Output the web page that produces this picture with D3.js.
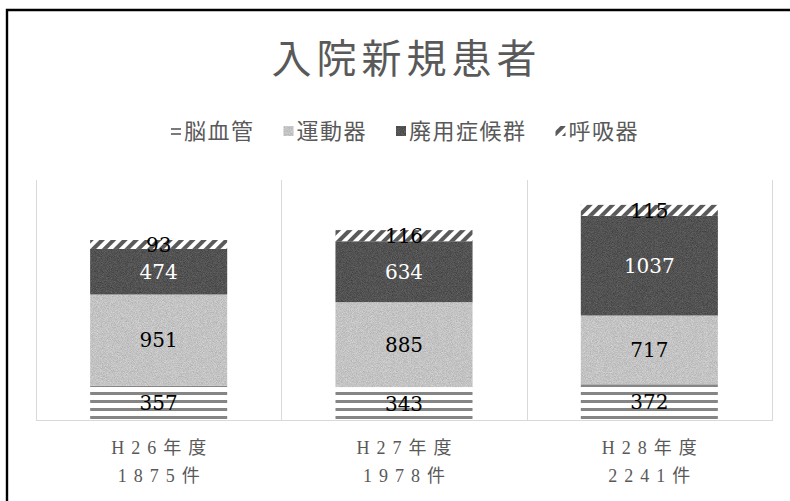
<!DOCTYPE html>
<html><head><meta charset="utf-8">
<script src="https://cdn.jsdelivr.net/npm/d3@7"></script>
<style>
  body { margin: 0; background: #fff; }
  svg { display: block; }
</style>
</head>
<body>
<svg id="chart" width="790" height="501"></svg>
<script>
// Admissions by fiscal year, stacked by rehabilitation category
const categories = ["H26年度", "H27年度", "H28年度"];
const totalLabels = ["1875件", "1978件", "2241件"];
const seriesNames = ["脳血管", "運動器", "廃用症候群", "呼吸器"];
const cerebrovascular = [357, 343, 372];
const locomotor = [951, 885, 717];
const disuse = [474, 634, 1037];
const respiratory = [93, 116, 115];

const seriesValues = [cerebrovascular, locomotor, disuse, respiratory];
const rows = categories.map((c, i) => {
  const r = { cat: c, total: totalLabels[i] };
  seriesNames.forEach((s, k) => r[s] = seriesValues[k][i]);
  return r;
});

const svg = d3.select("#chart");
const defs = svg.append("defs");
const plot = { left: 36, right: 772, top: 180, bottom: 420 };

// fills
const stripes = defs.append("pattern").attr("id", "p-stripes")
  .attr("patternUnits", "userSpaceOnUse").attr("width", 8).attr("height", 8);
stripes.append("rect").attr("width", 8).attr("height", 8).attr("fill", "#fff");
stripes.append("rect").attr("width", 8).attr("height", 3).attr("fill", "#858585");

const stripesKey = defs.append("pattern").attr("id", "p-stripes-key")
  .attr("patternUnits", "userSpaceOnUse").attr("width", 5).attr("height", 5)
  .attr("y", 127);
stripesKey.append("rect").attr("width", 5).attr("height", 5).attr("fill", "#fff");
stripesKey.append("rect").attr("width", 5).attr("height", 2).attr("fill", "#7a7a7a");

const hatch = defs.append("pattern").attr("id", "p-hatch")
  .attr("patternUnits", "userSpaceOnUse").attr("width", 8).attr("height", 8)
  .attr("patternTransform", "rotate(45)");
hatch.append("rect").attr("width", 8).attr("height", 8).attr("fill", "#fff");
hatch.append("rect").attr("width", 4).attr("height", 8).attr("fill", "#5a5a5a");

// textured fill grain
const grain = defs.append("filter").attr("id", "grain")
  .attr("x", 0).attr("y", 0).attr("width", 1).attr("height", 1)
  .attr("color-interpolation-filters", "sRGB");
grain.append("feTurbulence").attr("type", "fractalNoise")
  .attr("baseFrequency", 1.2).attr("numOctaves", 2).attr("seed", 7).attr("result", "noise");
grain.append("feColorMatrix").attr("in", "noise").attr("type", "matrix")
  .attr("values", "1.6 0 0 0 -0.3  1.6 0 0 0 -0.3  1.6 0 0 0 -0.3  0 0 0 0 0.15")
  .attr("result", "gray");
grain.append("feComposite").attr("in", "gray").attr("in2", "SourceGraphic")
  .attr("operator", "in").attr("result", "speck");
const merge = grain.append("feMerge");
merge.append("feMergeNode").attr("in", "SourceGraphic");
merge.append("feMergeNode").attr("in", "speck");

const fills = {
  "脳血管": "url(#p-stripes)",
  "運動器": "#cfcfcf",
  "廃用症候群": "#4a4a4a",
  "呼吸器": "url(#p-hatch)"
};
const keyFills = Object.assign({}, fills, { "脳血管": "url(#p-stripes-key)" });
const grainy = { "運動器": true, "廃用症候群": true };
const labelColor = { "脳血管": "#000", "運動器": "#000", "廃用症候群": "#fff", "呼吸器": "#000" };

const x = d3.scaleBand().domain(categories)
  .range([plot.left, plot.right]).paddingInner(0.4415).paddingOuter(0.22075);
const y = d3.scaleLinear().domain([0, 2500]).range([plot.bottom, plot.top]);

// outer frame
svg.append("path").attr("d", "M7,501V10H790")
  .attr("fill", "none").attr("stroke", "#000").attr("stroke-width", 2.4);

// category separators and baseline
const bounds = d3.range(categories.length + 1).map(i => plot.left + i * x.step());
svg.append("g").selectAll("line").data(bounds).join("line")
  .attr("x1", d => Math.round(d) + 0.5).attr("x2", d => Math.round(d) + 0.5)
  .attr("y1", plot.top).attr("y2", plot.bottom)
  .attr("stroke", "#d9d9d9").attr("stroke-width", 1);
svg.append("line").attr("x1", plot.left).attr("x2", plot.right + 1)
  .attr("y1", plot.bottom + 0.5).attr("y2", plot.bottom + 0.5)
  .attr("stroke", "#d9d9d9").attr("stroke-width", 1);

// stacked bars
const stacked = d3.stack().keys(seriesNames)(rows);
const layers = svg.append("g").selectAll("g").data(stacked).join("g")
  .attr("fill", d => fills[d.key]);
layers.selectAll("rect").data(d => d.map(v => Object.assign(v, { key: d.key }))).join("rect")
  .attr("x", d => x(d.data.cat))
  .attr("width", x.bandwidth())
  .attr("y", d => y(d[1]))
  .attr("height", d => y(d[0]) - y(d[1]))
  .attr("filter", d => grainy[d.key] ? "url(#grain)" : null);

// value labels
svg.append("g").selectAll("g").data(stacked).join("g")
  .attr("fill", d => labelColor[d.key])
  .selectAll("text").data(d => d).join("text")
  .attr("x", d => x(d.data.cat) + x.bandwidth() / 2)
  .attr("y", d => (y(d[0]) + y(d[1])) / 2)
  .attr("dy", "0.36em")
  .attr("text-anchor", "middle")
  .style("font-family", "'DejaVu Serif', 'Noto Sans CJK JP', serif")
  .style("font-size", "20px")
  .text(d => d.data[d.key]);

// category axis labels (two lines)
const axisSpacing = 7;
const axisG = svg.append("g")
  .style("font-family", "'Liberation Serif', 'Noto Sans CJK JP', serif")
  .style("font-size", "18px")
  .style("letter-spacing", axisSpacing + "px")
  .attr("fill", "#595959")
  .attr("text-anchor", "middle");
axisG.selectAll("text.l1").data(rows).join("text").attr("class", "l1")
  .attr("x", d => x(d.cat) + x.bandwidth() / 2 + axisSpacing / 2)
  .attr("y", 454).text(d => d.cat);
axisG.selectAll("text.l2").data(rows).join("text").attr("class", "l2")
  .attr("x", d => x(d.cat) + x.bandwidth() / 2 + axisSpacing / 2)
  .attr("y", 482).text(d => d.total);

// title
const titleSpacing = 5;
svg.append("text")
  .attr("x", 404 + titleSpacing / 2).attr("y", 73)
  .attr("text-anchor", "middle")
  .attr("fill", "#595959")
  .style("font-family", "'Noto Sans CJK JP', sans-serif")
  .style("font-size", "40px")
  .style("letter-spacing", titleSpacing + "px")
  .text("入院新規患者");

// legend
const legend = svg.append("g");
const items = legend.selectAll("g").data(seriesNames).join("g");
items.append("rect").attr("width", 10).attr("height", 10).attr("y", -5)
  .attr("fill", d => keyFills[d])
  .attr("filter", d => grainy[d] ? "url(#grain)" : null);
items.append("text").attr("x", 13).attr("dy", "0.36em")
  .attr("fill", "#595959")
  .style("font-family", "'Noto Sans CJK JP', sans-serif")
  .style("font-size", "22px")
  .style("letter-spacing", "1.5px")
  .text(d => d);
const widths = [];
items.each(function () {
  widths.push(13 + d3.select(this).select("text").node().getComputedTextLength());
});
const gap = 29;
const totalW = d3.sum(widths) + gap * (widths.length - 1);
let cursor = 405 - totalW / 2;
items.attr("transform", (d, i) => {
  const t = `translate(${cursor},131)`;
  cursor += widths[i] + gap;
  return t;
});
</script>
</body></html>
